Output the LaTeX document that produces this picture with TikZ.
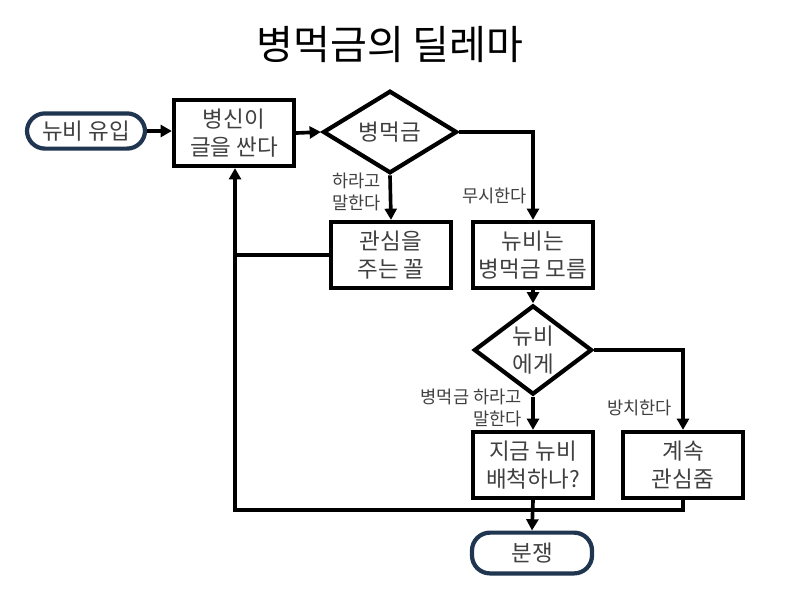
\documentclass[tikz,border=0pt]{standalone}
\usepackage{fontspec}
\setmainfont{Noto Sans CJK KR}
\usetikzlibrary{arrows.meta,shapes.geometric}
\definecolor{CT}{HTML}{1F3550}
\definecolor{CX}{HTML}{404040}
\tikzset{
	bx/.style  = {draw, line width=3pt, minimum width=3.0cm, minimum height=1.65cm,
		align=center, text=CX, font=\fontsize{16}{19.5}\selectfont},
	dm/.style  = {draw, diamond, line width=3pt, inner sep=0pt, align=center,
		text=CX, font=\fontsize{16}{19.5}\selectfont},
	tm/.style  = {draw=CT, line width=3pt, rounded corners=0.45cm, align=center,
		text=CX, font=\fontsize{16}{19.5}\selectfont},
	lb/.style  = {font=\fontsize{12.5}{15.5}\selectfont, text=CX, align=right, inner sep=0pt},
	ar/.style  = {-{Triangle[length=8pt,width=8.5pt]}, line width=2.6pt},
	ln/.style  = {line width=2.6pt},
}
\begin{document}
\begin{tikzpicture}[x=0.025cm, y=-0.025cm]
	\useasboundingbox (0,0) rectangle (800,601);
	
	%%═══════════════════════════════════════════════════════════════════
	%% TITLE
	%%═══════════════════════════════════════════════════════════════════
	\node[font=\fontsize{28.5}{32}\selectfont] (title) at (390,45) {병먹금의 딜레마};
	
	%%═══════════════════════════════════════════════════════════════════
	%% NODES   (pixel grid, y downwards)
	%%═══════════════════════════════════════════════════════════════════
	\node[tm, minimum width=2.95cm, minimum height=0.88cm] (start) at (86,131)  {뉴비 유입};
	\node[bx]                                              (post)  at (234,133) {병신이\\글을 싼다};
	\node[dm, minimum width=3.35cm, minimum height=1.95cm] (feed)  at (390,132) {병먹금};
	\node[bx]                                              (care)  at (391,255) {관심을\\주는 꼴};
	\node[bx]                                              (dunno) at (533,255) {뉴비는\\병먹금 모름};
	\node[dm, minimum width=2.95cm, minimum height=1.95cm] (tell)  at (533,350) {뉴비\\에게};
	\node[bx]                                              (ban)   at (533,465) {지금 뉴비\\배척하나?};
	\node[bx]                                              (keep)  at (683,465) {계속\\관심줌};
	\node[tm, minimum width=3.0cm, minimum height=1.02cm]  (fight) at (532,553) {분쟁};
	\coordinate (loop) at (235,510);
	
	%%═══════════════════════════════════════════════════════════════════
	%% BRANCH LABELS
	%%═══════════════════════════════════════════════════════════════════
	\node[lb, anchor=east] (l1) at (381,192) {하라고\\말한다};
	\node[lb, anchor=east] (l2) at (527,196) {무시한다};
	\node[lb, anchor=east] (l3) at (522,408) {병먹금 하라고\\말한다};
	\node[lb, anchor=east] (l4) at (672,408) {방치한다};
	
	%%═══════════════════════════════════════════════════════════════════
	%% CONNECTORS
	%%═══════════════════════════════════════════════════════════════════
	\draw[ar] (start.east) -- (post.west |- start.east);
	\draw[ar] (post.east)  -- (feed.west);
	\draw[ar] (feed.south) -- (care.north);
	\draw[ar] (feed.east)  -| (dunno.north);
	\draw[ar] (dunno.south) -- (tell.north);
	\draw[ar] (tell.south) -- (ban.north);
	\draw[ar] (tell.east)  -| (keep.north);
	\draw[ar] (ban.south)  -- (fight.north);
	
	%% loop back to the first post
	\draw[ar] (keep.south) |- (loop) -- (post.south -| loop);
	\draw[ln] (care.west)  -- (care.west -| loop);
	
\end{tikzpicture}
\end{document}
